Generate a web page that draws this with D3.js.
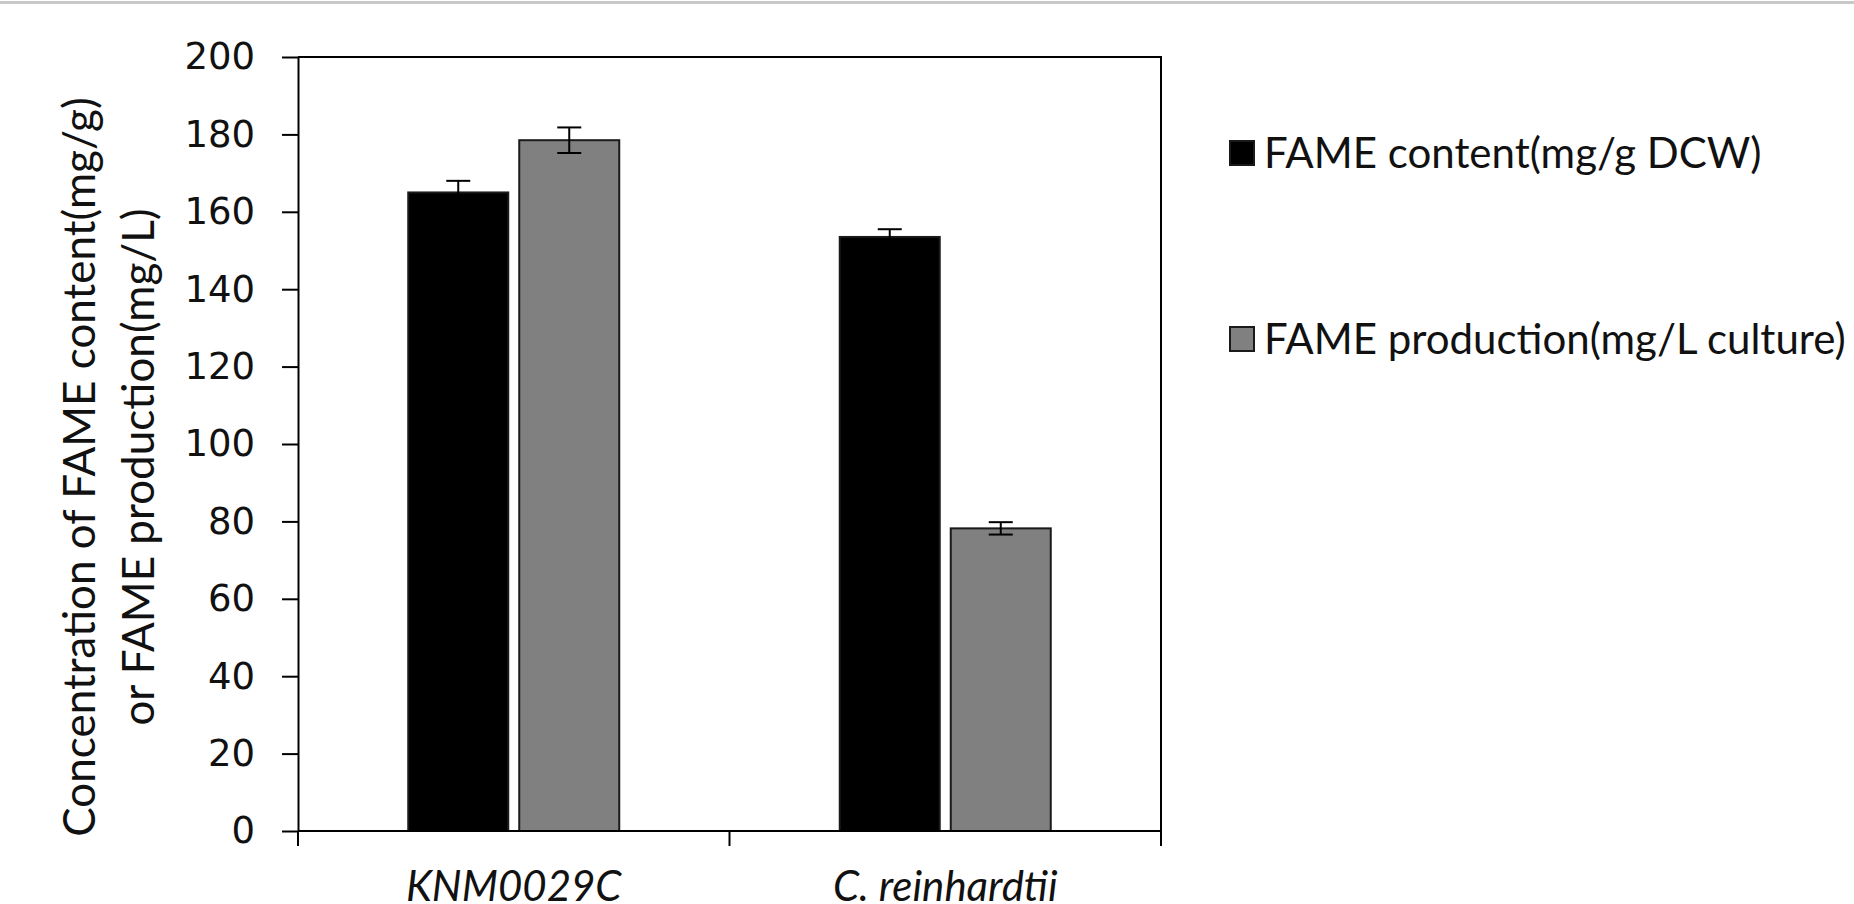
<!DOCTYPE html>
<html>
<head>
<meta charset="utf-8">
<script src="https://cdn.jsdelivr.net/npm/d3@7"></script>
<style>
    body { margin: 0; background: #fff; }
    svg { display: block; }
</style>
</head>
<body>
<div id="chart"></div>
<script>
// data
const categories = ['KNM0029C', 'C. reinhardtii'];
const seriesNames = ['FAME content(mg/g DCW)', 'FAME production(mg/L culture)'];
const fameContent = [165, 153.5];
const fameContentErr = [3, 2];
const fameProduction = [178.5, 78.2];
const fameProductionErr = [3.3, 1.6];
const yTicks = [0, 20, 40, 60, 80, 100, 120, 140, 160, 180, 200];

const width = 1854;
const height = 904;
const margin = {top: 57, right: 693, bottom: 73, left: 298};
const fills = ['#000000', '#808080'];

const svg = d3.select('#chart').append('svg')
    .attr('width', width)
    .attr('height', height);

// thin frame line at the very top
svg.append('line')
    .attr('x1', 0).attr('x2', width)
    .attr('y1', 2.5).attr('y2', 2.5)
    .attr('stroke', '#c8c8c8')
    .attr('stroke-width', 3);

const x = d3.scaleBand()
    .domain(categories)
    .range([margin.left, width - margin.right])
    .paddingInner(0)
    .paddingOuter(0);

const y = d3.scaleLinear()
    .domain([0, 200])
    .range([height - margin.bottom, margin.top]);

const barWidth = 100;
const barGap = 11;
const x1 = d3.scaleOrdinal()
    .domain([0, 1])
    .range([-(barWidth + barGap / 2), barGap / 2]);

const series = [
    {values: fameContent, errors: fameContentErr},
    {values: fameProduction, errors: fameProductionErr}
];

// plot box (top and right edges)
svg.append('path')
    .attr('d', `M${margin.left},${margin.top}H${width - margin.right}V${height - margin.bottom}`)
    .attr('fill', 'none')
    .attr('stroke', '#000')
    .attr('stroke-width', 2);

// bars
series.forEach((s, i) => {
    svg.append('g')
        .selectAll('rect')
        .data(categories)
        .enter()
        .append('rect')
        .attr('x', (d) => x(d) + x.bandwidth() / 2 + x1(i))
        .attr('y', (d, j) => y(s.values[j]))
        .attr('width', barWidth)
        .attr('height', (d, j) => y(0) - y(s.values[j]))
        .attr('fill', fills[i])
        .attr('stroke', '#1a1a1a')
        .attr('stroke-width', 2);
});

// error bars
series.forEach((s, i) => {
    const g = svg.append('g')
        .attr('stroke', '#000')
        .attr('stroke-width', 2);
    categories.forEach((c, j) => {
        const cx = x(c) + x.bandwidth() / 2 + x1(i) + barWidth / 2;
        const hi = y(s.values[j] + s.errors[j]);
        const lo = y(s.values[j] - s.errors[j]);
        g.append('line').attr('x1', cx).attr('x2', cx).attr('y1', hi).attr('y2', lo);
        g.append('line').attr('x1', cx - 12).attr('x2', cx + 12).attr('y1', hi).attr('y2', hi);
        g.append('line').attr('x1', cx - 12).attr('x2', cx + 12).attr('y1', lo).attr('y2', lo);
    });
});

// y axis
const yAxis = svg.append('g')
    .attr('transform', `translate(${margin.left},0)`)
    .call(d3.axisLeft(y).tickValues(yTicks).tickSize(16).tickPadding(27).tickSizeOuter(0));
yAxis.select('.domain').attr('stroke-width', 2);
yAxis.selectAll('.tick line').attr('stroke-width', 2);
yAxis.selectAll('text')
    .attr('font-family', 'DejaVu Sans, sans-serif')
    .attr('font-size', 37)
    .attr('fill', '#111');

// x axis with ticks at category boundaries
const xAxis = svg.append('g')
    .attr('transform', `translate(0,${y(0)})`);
xAxis.append('line')
    .attr('x1', margin.left).attr('x2', width - margin.right)
    .attr('stroke', '#000').attr('stroke-width', 2);
xAxis.selectAll('.xtick')
    .data([...categories.map((c) => x(c)), width - margin.right])
    .enter()
    .append('line')
    .attr('x1', (d) => d).attr('x2', (d) => d)
    .attr('y1', 0).attr('y2', 15)
    .attr('stroke', '#000').attr('stroke-width', 2);
xAxis.selectAll('.xlabel')
    .data(categories)
    .enter()
    .append('text')
    .attr('x', (d) => x(d) + x.bandwidth() / 2)
    .attr('y', height - y(0) - 3)
    .attr('text-anchor', 'middle')
    .attr('font-family', 'Lato, sans-serif')
    .attr('font-style', 'italic')
    .attr('font-size', 42)
    .attr('fill', '#111')
    .text((d) => d);

// y axis title
const title = svg.append('text')
    .attr('transform', 'translate(80,467) rotate(-90)')
    .attr('text-anchor', 'middle')
    .attr('font-family', 'Lato, sans-serif')
    .attr('font-size', 44)
    .attr('fill', '#111');
title.append('tspan').attr('x', 0).attr('dy', '0.35em').text('Concentration of FAME content(mg/g)');
title.append('tspan').attr('x', 0).attr('dy', 59).text('or FAME production(mg/L)');

// legend
const legend = svg.append('g')
    .selectAll('g')
    .data(seriesNames)
    .enter()
    .append('g')
    .attr('transform', (d, i) => `translate(1230,${153 + i * 186})`);
legend.append('rect')
    .attr('x', 0).attr('y', -12)
    .attr('width', 24).attr('height', 24)
    .attr('fill', (d, i) => fills[i])
    .attr('stroke', '#1a1a1a')
    .attr('stroke-width', 2);
legend.append('text')
    .attr('x', 34)
    .attr('dy', '0.35em')
    .attr('font-family', 'Lato, sans-serif')
    .attr('font-size', 42)
    .attr('fill', '#111')
    .text((d) => d);
</script>
</body>
</html>
